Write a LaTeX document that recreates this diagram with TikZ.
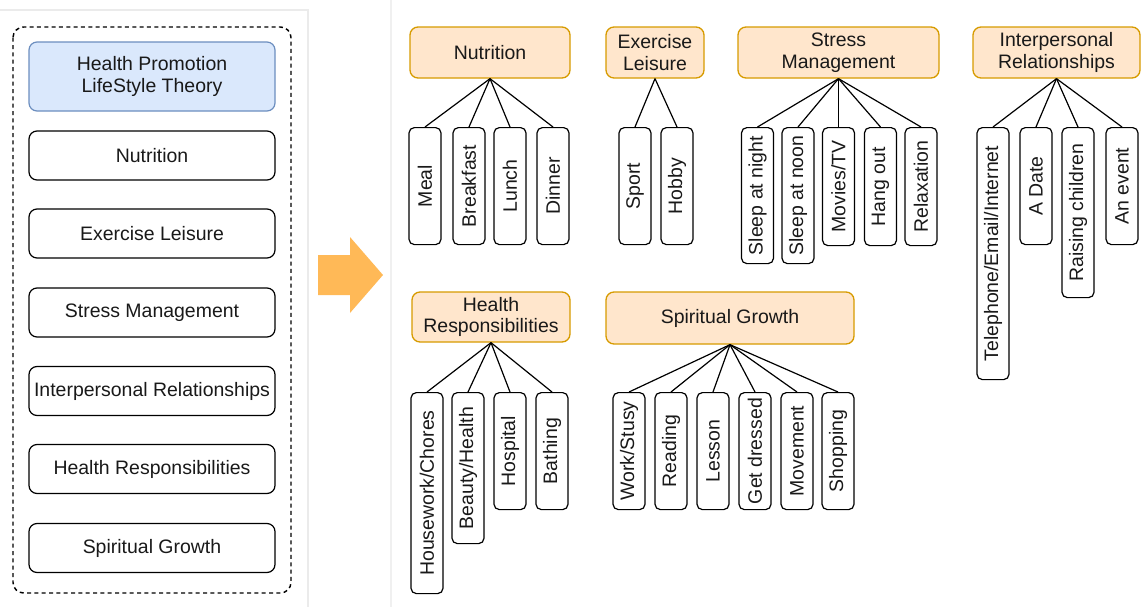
\documentclass[tikz,border=0pt]{standalone}
\usepackage{fontspec}
\setmainfont{Liberation Sans}
\usetikzlibrary{calc,shapes,arrows.meta}

\definecolor{hdrfill}{HTML}{FFE6CC}
\definecolor{hdrdraw}{HTML}{D79B00}
\definecolor{topfill}{HTML}{DAE8FC}
\definecolor{topdraw}{HTML}{6C8EBF}
\definecolor{bigarrow}{HTML}{FFB957}

\begin{document}
\begin{tikzpicture}[x=0.75pt,y=-0.75pt,
  every node/.style={font=\fontsize{14.6}{16.4}\selectfont, align=center, inner sep=0pt, text=black!90},
  lbox/.style={draw, rounded corners=6pt, line width=0.9pt, minimum width=246*0.75pt, minimum height=49*0.75pt},
  hbox/.style={draw=hdrdraw, fill=hdrfill, rounded corners=6pt, line width=1pt, minimum height=51*0.75pt},
  leaf/.style={draw, rounded corners=4pt, line width=0.9pt, rotate=90, anchor=east, minimum height=32*0.75pt},
  link/.style={line width=0.9pt}]
  \useasboundingbox (0,0) rectangle (1142,607);

  %% Left panel with the theory and its six parts
  \draw[black!8, line width=0.8pt] (0,10) -- (308,10) -- (308,607);
  \draw[black!6, line width=0.8pt] (391,0) -- (391,607);
  \draw[dash pattern=on 3pt off 2.5pt, line width=1.1pt, rounded corners=8pt] (13,27) rectangle (291,593);
  \node[lbox, draw=topdraw, fill=topfill, minimum height=69*0.75pt] (LHP) at (152,76.5) {Health Promotion\\LifeStyle Theory};
  \foreach \y/\t [count=\i] in {155.5/Nutrition, 233.5/Exercise Leisure, 312.5/Stress Management,
    391/Interpersonal Relationships, 469/Health Responsibilities, 548/Spiritual Growth}
  {
    \node[lbox] (L\i) at (152,\y) {\t};
  }

  %% Big arrow
  \fill[bigarrow] (318,255) -- (350,255) -- (350,237) -- (383,275) -- (350,313) -- (350,295) -- (318,295) -- cycle;

  %% Headers of the groups
  \node[hbox, minimum width=160*0.75pt] (NUT) at (490,52.5) {Nutrition};
  \node[hbox, minimum width=98*0.75pt]  (EXE) at (655,52.5) {Exercise\\Leisure};
  \node[hbox, minimum width=201*0.75pt] (STR) at (838.5,52.5) {Stress\\Management};
  \node[hbox, minimum width=167*0.75pt] (INT) at (1056.5,52.5) {Interpersonal\\Relationships};
  \node[hbox, minimum width=158*0.75pt, minimum height=50*0.75pt] (HRE) at (491,317) {Health\\Responsibilities};
  \node[hbox, minimum width=248*0.75pt, minimum height=52*0.75pt] (SPG) at (730,318) {Spiritual Growth};

  %% Leaves under each header
  \foreach \x/\h/\t [count=\i] in {425/117/Meal, 469/117/Breakfast, 510/117/Lunch, 553/117/Dinner}
  {
    \node[leaf, minimum width=\h*0.75pt] (NUT\i) at (\x,127) {\t};
    \draw[link] (NUT.south) -- (NUT\i.east);
  }
  \foreach \x/\h/\t [count=\i] in {635/117/Sport, 677/117/Hobby}
  {
    \node[leaf, minimum width=\h*0.75pt] (EXE\i) at (\x,127) {\t};
    \draw[link] (EXE.south) -- (EXE\i.east);
  }
  \foreach \x/\h/\t [count=\i] in {757.5/136/Sleep at night, 798/136/Sleep at noon, 838.5/118/{Movies/TV},
    880.5/118/Hang out, 921/118/Relaxation}
  {
    \node[leaf, minimum width=\h*0.75pt] (STR\i) at (\x,127) {\t};
    \draw[link] (STR.south) -- (STR\i.east);
  }
  \foreach \x/\h/\t [count=\i] in {993/252/{Telephone/Email/Internet}, 1036/117/A Date,
    1078/170/Raising children, 1122/117/An event}
  {
    \node[leaf, minimum width=\h*0.75pt] (INT\i) at (\x,127) {\t};
    \draw[link] (INT.south) -- (INT\i.east);
  }
  \foreach \x/\h/\t [count=\i] in {427/201/{Housework/Chores}, 468/151/{Beauty/Health},
    510/117/Hospital, 552/117/Bathing}
  {
    \node[leaf, minimum width=\h*0.75pt] (HRE\i) at (\x,392) {\t};
    \draw[link] (HRE.south) -- (HRE\i.east);
  }
  \foreach \x/\h/\t [count=\i] in {629/117/{Work/Stusy}, 671/117/Reading, 713/117/Lesson,
    755/117/Get dressed, 797/117/Movement, 838/117/Shopping}
  {
    \node[leaf, minimum width=\h*0.75pt] (SPG\i) at (\x,392) {\t};
    \draw[link] (SPG.south) -- (SPG\i.east);
  }
\end{tikzpicture}
\end{document}
